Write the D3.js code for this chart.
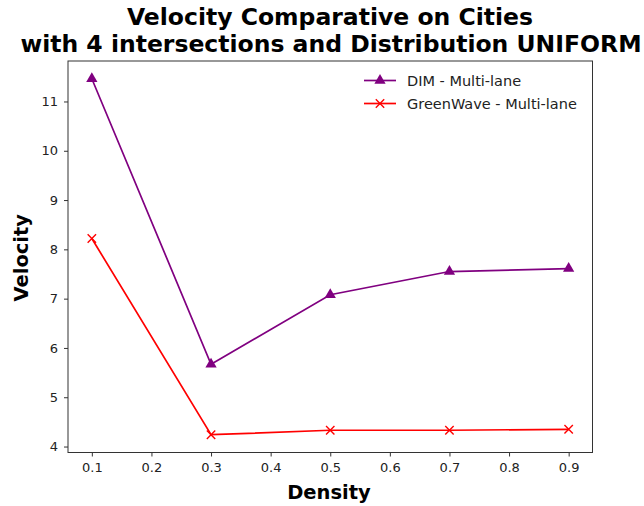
<!DOCTYPE html>
<html><head><meta charset="utf-8">
<script src="https://cdn.jsdelivr.net/npm/d3@7"></script>
<style>body{margin:0;background:#fff;} svg{font-family:"DejaVu Sans",sans-serif;}</style>
</head><body>
<svg id="c" width="644" height="506"></svg>
<script>
const densities = [0.1, 0.3, 0.5, 0.7, 0.9];
const dimValues = [11.46, 5.67, 7.08, 7.55, 7.61];
const greenWaveValues = [8.22, 4.24, 4.33, 4.33, 4.35];
const xTicks = [0.1, 0.2, 0.3, 0.4, 0.5, 0.6, 0.7, 0.8, 0.9];
const yTicks = [4, 5, 6, 7, 8, 9, 10, 11];
const seriesNames = ["DIM - Multi-lane", "GreenWave - Multi-lane"];

const svg = d3.select("#c");
const L = 68, R = 592.5, T = 61, B = 452.5;
const x = d3.scaleLinear().domain([0.06, 0.94]).range([L, R]);
const y = d3.scaleLinear().domain([3.879, 11.821]).range([B, T]);

svg.append("rect").attr("x", L).attr("y", T).attr("width", R - L).attr("height", B - T)
  .attr("fill", "none").attr("stroke", "#333").attr("stroke-width", 1);

const xa = svg.append("g").attr("transform", `translate(0,${B})`)
  .call(d3.axisBottom(x).tickValues(xTicks).tickFormat(d3.format(".1f")).tickSize(4).tickPadding(6));
const ya = svg.append("g").attr("transform", `translate(${L},0)`)
  .call(d3.axisLeft(y).tickValues(yTicks).tickFormat(d3.format("d")).tickSize(4).tickPadding(6));
[xa, ya].forEach(a => {
  a.select(".domain").remove();
  a.selectAll("text").attr("font-size", 13).attr("fill", "#222").attr("font-family", "DejaVu Sans");
  a.selectAll("line").attr("stroke", "#333");
});

const line = d3.line().x((d, i) => x(densities[i])).y(d => y(d));
svg.append("path").datum(dimValues).attr("d", line).attr("fill", "none").attr("stroke", "purple").attr("stroke-width", 1.7);
svg.append("path").datum(greenWaveValues).attr("d", line).attr("fill", "none").attr("stroke", "red").attr("stroke-width", 1.7);

const tri = d3.symbol().type(d3.symbolTriangle).size(55);
function cross(cx, cy, s) { return `M${cx - s},${cy - s}L${cx + s},${cy + s}M${cx - s},${cy + s}L${cx + s},${cy - s}`; }

svg.selectAll(".tri").data(dimValues).enter().append("path")
  .attr("d", tri).attr("transform", (d, i) => `translate(${x(densities[i])},${y(d)})`).attr("fill", "purple");
svg.selectAll(".crs").data(greenWaveValues).enter().append("path")
  .attr("d", (d, i) => cross(x(densities[i]), y(d), 4.2)).attr("stroke", "red").attr("stroke-width", 1.4).attr("fill", "none");

// legend
const lg = svg.append("g");
const ly = [80.5, 103.5];
lg.append("line").attr("x1", 364).attr("x2", 396).attr("y1", ly[0]).attr("y2", ly[0]).attr("stroke", "purple").attr("stroke-width", 1.7);
lg.append("path").attr("d", tri).attr("transform", `translate(380,${ly[0]})`).attr("fill", "purple");
lg.append("line").attr("x1", 364).attr("x2", 396).attr("y1", ly[1]).attr("y2", ly[1]).attr("stroke", "red").attr("stroke-width", 1.7);
lg.append("path").attr("d", cross(380, ly[1], 4.2)).attr("stroke", "red").attr("stroke-width", 1.4).attr("fill", "none");
seriesNames.forEach((n, i) => lg.append("text").attr("x", 407).attr("y", ly[i] + 5).attr("font-size", 14.5).attr("fill", "#222").text(n));

// titles
svg.append("text").attr("x", 330).attr("y", 25).attr("text-anchor", "middle").attr("font-size", 23.5).attr("font-weight", "bold").text("Velocity Comparative on Cities");
svg.append("text").attr("x", 331).attr("y", 52).attr("text-anchor", "middle").attr("font-size", 23.5).attr("font-weight", "bold").text("with 4 intersections and Distribution UNIFORM");
svg.append("text").attr("x", 329).attr("y", 499).attr("text-anchor", "middle").attr("font-size", 19.5).attr("font-weight", "bold").text("Density");
svg.append("text").attr("transform", `translate(28,${(T + B) / 2 + 1}) rotate(-90)`).attr("text-anchor", "middle").attr("font-size", 19.5).attr("font-weight", "bold").text("Velocity");
</script>
</body></html>
